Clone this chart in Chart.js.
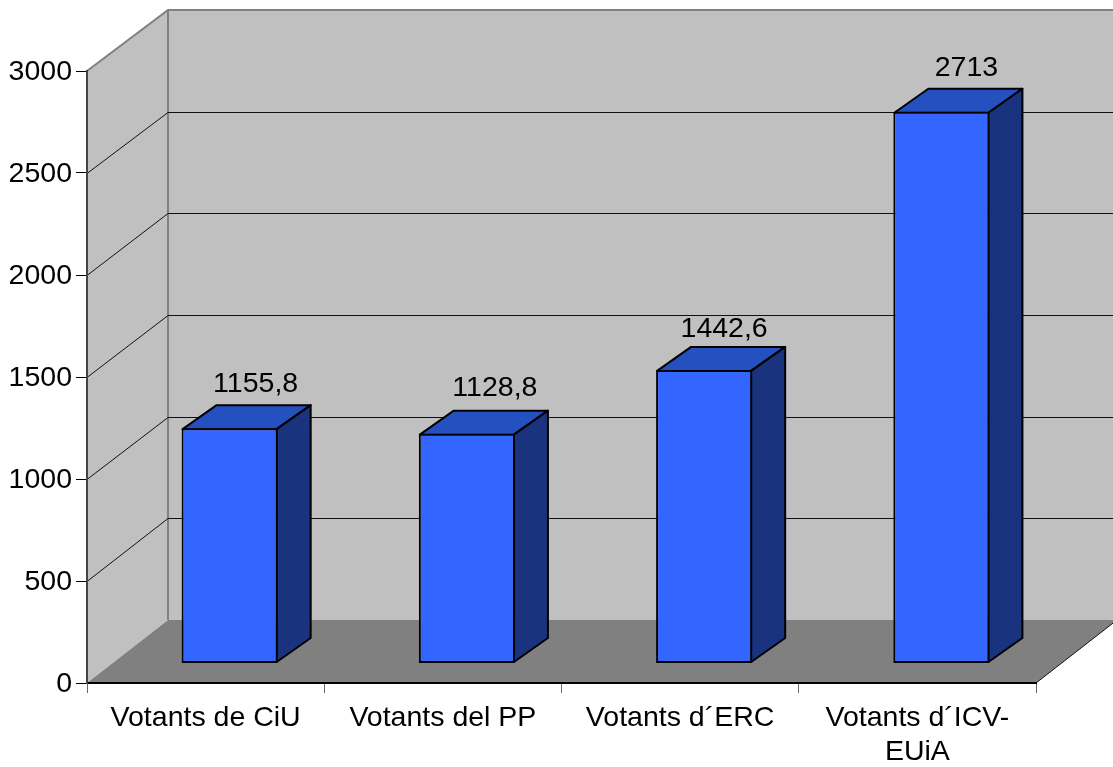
<!DOCTYPE html>
<html>
<head>
<meta charset="utf-8">
<script src="https://cdn.jsdelivr.net/npm/chart.js@4"></script>
<style>
body { margin: 0; background: #fff; }
canvas { display: block; }
</style>
</head>
<body>
<canvas id="votants-chart" width="1113" height="767"></canvas>
<script>
const categories = ['Votants de CiU', 'Votants del PP', 'Votants d´ERC', ['Votants d´ICV-', 'EUiA']];
const votants = [1155.8, 1128.8, 1442.6, 2713];
const yTicks = [0, 500, 1000, 1500, 2000, 2500, 3000];

// 3d look: walls go back by wall*, bars stand a bit inside the floor
const wallX = 81, wallTop = -61, wallBottom = -63;
const barShiftX = 24, barShiftY = -20;
const depthX = 34, depthY = -24;
const labelShift = [[1, 0], [3, -2], [-5, 3], [0, 0]];

const box3d = {
    id: 'box3d',
    beforeDraw(chart) {
        const ctx = chart.ctx, a = chart.chartArea, y = chart.scales.y;
        // back wall is a little shorter than the front axis
        const backY = (py) => py + wallBottom + (a.bottom - py) * (wallTop - wallBottom) / a.height;
        ctx.save();
        ctx.fillStyle = '#c0c0c0';
        ctx.fillRect(a.left + wallX, a.top + wallTop, a.width, a.height - wallTop + wallBottom);
        ctx.beginPath();
        ctx.moveTo(a.left, a.top);
        ctx.lineTo(a.left + wallX, a.top + wallTop);
        ctx.lineTo(a.left + wallX, a.bottom + wallBottom);
        ctx.lineTo(a.left, a.bottom);
        ctx.closePath();
        ctx.fill();

        ctx.fillStyle = '#808080';
        ctx.beginPath();
        ctx.moveTo(a.left, a.bottom);
        ctx.lineTo(a.left + wallX, a.bottom + wallBottom);
        ctx.lineTo(a.right + wallX, a.bottom + wallBottom);
        ctx.lineTo(a.right, a.bottom);
        ctx.closePath();
        ctx.fill();

        ctx.strokeStyle = '#808080';
        ctx.lineWidth = 2;
        ctx.beginPath();
        ctx.moveTo(a.left, a.top);
        ctx.lineTo(a.left + wallX, a.top + wallTop);
        ctx.lineTo(a.right + wallX, a.top + wallTop);
        ctx.moveTo(a.left + wallX, a.top + wallTop);
        ctx.lineTo(a.left + wallX, a.bottom + wallBottom);
        ctx.stroke();

        ctx.strokeStyle = '#111';
        ctx.lineWidth = 1;
        ctx.beginPath();
        yTicks.slice(1, -1).forEach((v) => {
            const py = Math.round(y.getPixelForValue(v));
            const back = Math.round(backY(py)) + 0.5;
            ctx.moveTo(a.left, py + 0.5);
            ctx.lineTo(a.left + wallX, back);
            ctx.lineTo(a.right + wallX, back);
        });
        ctx.moveTo(a.right, a.bottom);
        ctx.lineTo(a.right + wallX, a.bottom + wallBottom);
        ctx.stroke();
        ctx.restore();
    },
    beforeDatasetDraw(chart, args) {
        const ctx = chart.ctx;
        ctx.save();
        ctx.translate(barShiftX, barShiftY);
        ctx.strokeStyle = '#000';
        ctx.lineWidth = 2;
        ctx.lineJoin = 'round';
        args.meta.data.forEach((bar) => {
            const l = bar.x - bar.width / 2 + 1, r = bar.x + bar.width / 2 - 1;
            const t = bar.y + 1, b = bar.base - 1;
            ctx.fillStyle = '#2550c0';
            ctx.beginPath();
            ctx.moveTo(l, t);
            ctx.lineTo(l + depthX, t + depthY);
            ctx.lineTo(r + depthX, t + depthY);
            ctx.lineTo(r, t);
            ctx.closePath();
            ctx.fill();
            ctx.stroke();
            ctx.fillStyle = '#19337f';
            ctx.beginPath();
            ctx.moveTo(r, t);
            ctx.lineTo(r + depthX, t + depthY);
            ctx.lineTo(r + depthX, b + depthY);
            ctx.lineTo(r, b);
            ctx.closePath();
            ctx.fill();
            ctx.stroke();
        });
    },
    afterDatasetDraw(chart) {
        chart.ctx.restore();
    },
    afterDatasetsDraw(chart) {
        const ctx = chart.ctx;
        ctx.save();
        ctx.font = '28.5px "Liberation Sans"';
        ctx.fillStyle = '#000';
        ctx.textAlign = 'center';
        ctx.textBaseline = 'middle';
        chart.getDatasetMeta(0).data.forEach((bar, i) => {
            const text = String(votants[i]).replace('.', ',');
            ctx.fillText(text, bar.x + barShiftX + 25 + labelShift[i][0], bar.y + barShiftY - 44 + labelShift[i][1]);
        });
        ctx.restore();
    }
};

function initializeVotantsChart() {
    const context = document.getElementById('votants-chart').getContext('2d');
    new Chart(context, {
        type: 'bar',
        data: {
            labels: categories,
            datasets: [{
                data: votants,
                yAxisID: 'yBar',
                backgroundColor: '#3366ff',
                borderColor: '#000',
                borderWidth: 2,
                borderSkipped: false,
                barPercentage: 0.405,
                categoryPercentage: 1
            }]
        },
        options: {
            responsive: false,
            animation: false,
            layout: { padding: { top: 71, right: 77, left: 0, bottom: 0 } },
            plugins: { legend: { display: false }, tooltip: { enabled: false } },
            scales: {
                x: {
                    offset: true,
                    grid: { drawOnChartArea: false, color: '#666', tickLength: 10, offset: true },
                    border: { color: '#000', width: 2 },
                    afterFit: (scale) => { scale.height = 84; },
                    ticks: {
                        maxRotation: 0, autoSkip: false, padding: 8, color: '#000',
                        font: { family: '"Liberation Sans"', size: 28.5 }
                    }
                },
                y: {
                    min: 0,
                    max: 3000,
                    afterBuildTicks: (scale) => { scale.ticks = yTicks.map((v) => ({ value: v })); },
                    afterFit: (scale) => { scale.width = 87; },
                    grid: { drawOnChartArea: false, color: '#000', tickLength: 11 },
                    border: { color: '#444', width: 2 },
                    ticks: {
                        padding: 4, color: '#000', labelOffset: 1,
                        callback: (v) => String(v),
                        font: { family: '"Liberation Sans"', size: 28.5 }
                    }
                },
                // bars sit further back so they read slightly shorter than the front axis
                yBar: { display: false, min: 0, max: 3012 }
            }
        },
        plugins: [box3d]
    });
}

window.onload = () => {
    initializeVotantsChart();
};
</script>
</body>
</html>
